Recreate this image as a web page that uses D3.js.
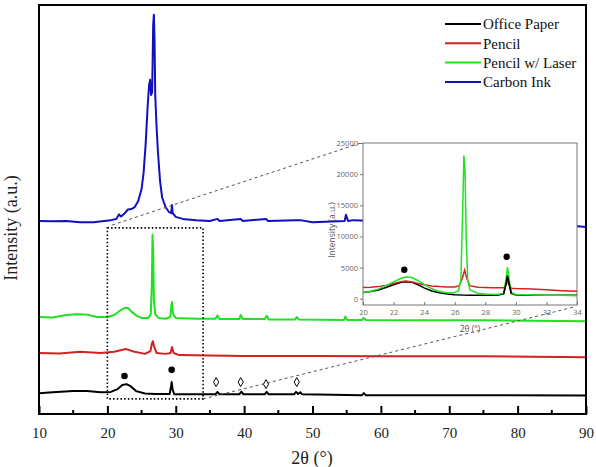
<!DOCTYPE html>
<html>
<head>
<meta charset="utf-8">
<script src="https://cdn.jsdelivr.net/npm/d3@7"></script>
<style>
  body { margin: 0; background: #fff; }
  svg { display: block; }
</style>
</head>
<body>
<div id="chart"></div>
<script>
// series: [2theta, intensity (a.u., stacked offset)]
const officePaper = [[10,5.1],[12,5.3],[15,5.6],[17,5.6],[19,5.3],[20.5,5.4],[21.5,6.1],[22.2,7.1],[22.8,7.3],[23.4,6.8],[24.2,5.6],[25.5,5.0],[27,4.9],[29.1,4.9],[29.3,6.6],[29.4,7.8],[29.55,5.9],[29.8,4.8],[33,4.8],[35.8,4.8],[36.1,5.4],[36.4,4.8],[39.3,4.8],[39.6,5.5],[39.9,4.8],[43.0,4.8],[43.3,5.4],[43.6,4.8],[47.3,4.8],[47.6,5.4],[47.9,4.9],[48.2,5.3],[48.5,4.8],[57.2,4.6],[57.5,5.1],[57.8,4.6],[70,4.6],[90,4.5]];
const pencil = [[10,14.9],[13,14.8],[16,15.2],[19,14.9],[21,15.2],[22.7,15.9],[24,15.2],[25.5,14.7],[26.3,15.4],[26.5,17.1],[26.65,17.8],[26.85,16.4],[27.2,14.9],[28.5,14.7],[29.25,14.9],[29.45,16.4],[29.7,14.9],[30.5,14.4],[35,14.3],[40,14.2],[50,14.2],[60,14.1],[75,14.1],[90,13.9]];
const pencilLaser = [[10,23.7],[12,23.6],[14,24.2],[15.5,24.4],[17,24.3],[18.5,23.7],[20,23.7],[21,24.2],[21.8,25.2],[22.5,25.9],[23.0,25.9],[23.6,24.9],[24.3,24.0],[25.0,23.5],[26.0,23.5],[26.35,24.4],[26.5,31.5],[26.6,43.8],[26.7,40.1],[26.8,27.9],[27.0,24.4],[27.5,23.5],[28.5,23.3],[29.2,23.7],[29.35,26.4],[29.45,27.4],[29.6,24.4],[30,23.5],[33,23.3],[35.8,23.3],[36.1,24.1],[36.4,23.2],[39.3,23.2],[39.5,24.2],[39.8,23.2],[43.0,23.2],[43.3,24.0],[43.6,23.1],[47.4,23.1],[47.7,23.7],[48.0,23.1],[54.6,23.0],[54.8,23.8],[55.1,23.0],[57.2,23.0],[57.5,23.5],[57.8,23.0],[65,22.9],[75,22.9],[90,22.7]];
const carbonInk = [[10,47.2],[12,47.1],[14,47.2],[16,46.9],[18,46.9],[19.5,47.2],[20.5,47.4],[21.3,47.7],[21.7,48.8],[22.0,48.3],[22.5,49.0],[23.0,50.0],[23.5,50.1],[24.0,50.6],[24.5,52.0],[25.0,55.0],[25.3,59.0],[25.6,66.0],[25.9,75.5],[26.1,80.4],[26.25,81.7],[26.4,78.0],[26.55,78.7],[26.7,95.1],[26.8,97.6],[26.9,91.4],[27.0,78.0],[27.2,70.0],[27.4,64.0],[27.7,57.0],[28.0,53.0],[28.5,50.6],[29.0,49.4],[29.35,49.1],[29.45,51.1],[29.55,49.1],[30,48.2],[31,47.7],[33,47.4],[35,47.2],[36.1,47.7],[36.4,47.2],[39.5,47.7],[39.8,47.2],[43.2,47.7],[43.5,47.2],[47.5,47.4],[48.2,47.4],[50,46.9],[54.7,47.2],[54.9,48.7],[55.2,47.2],[56,47.4],[70,46.5],[88,46.0],[90,45.7]];

const seriesNames = ["Office Paper", "Pencil", "Pencil w/ Laser", "Carbon Ink"];
const seriesColors = ["#000000", "#d42020", "#22e022", "#1010c0"];

// peak markers on the main plot
const dotMarks = [[22.5, 9.3], [29.4, 10.8]];
const diamondMarks = [[35.9, 7.8], [39.5, 7.8], [43.2, 7.3], [47.7, 7.8]];
const zoomBox = { x0: 20, x1: 34, y0: 3.7, y1: 45.5 };

// inset (20-34 deg, counts)
const insetPaper = [[20,1000],[20.5,1150],[21,1400],[21.5,1800],[22,2250],[22.5,2650],[22.8,2750],[23.2,2650],[23.6,2250],[24,1750],[24.5,1250],[25,950],[25.5,750],[26,650],[26.5,600],[27,580],[28,550],[28.8,550],[29.2,800],[29.35,2300],[29.45,3700],[29.55,2500],[29.7,850],[30,600],[31,550],[32,550],[33,550],[34,550]];
const insetPencil = [[20,1800],[20.5,1850],[21,1950],[21.5,2150],[22,2450],[22.5,2750],[22.8,2850],[23.2,2700],[23.6,2450],[24,2250],[24.5,2050],[25,1950],[25.5,1900],[26,1900],[26.3,2100],[26.5,3300],[26.65,4600],[26.8,3200],[27,2100],[27.5,1850],[28.5,1750],[29.2,1750],[29.35,2300],[29.45,2800],[29.55,2200],[29.7,1700],[30,1650],[31,1550],[32,1450],[33,1300],[34,1200]];
const insetLaser = [[20,1000],[20.5,1200],[21,1550],[21.5,2100],[22,2700],[22.5,3300],[22.8,3500],[23.2,3400],[23.6,2900],[24,2300],[24.5,1600],[25,1150],[25.5,950],[26,1000],[26.25,1300],[26.4,3000],[26.52,14000],[26.6,23000],[26.68,20000],[26.75,10000],[26.85,3000],[27,1400],[27.5,900],[28,750],[28.8,700],[29.2,900],[29.35,3000],[29.45,5100],[29.55,3300],[29.7,1000],[30,700],[31,600],[32,550],[33,550],[34,500]];
const insetDots = [[22.7, 4650], [29.4, 6750]];
const insetXTicks = [20, 22, 24, 26, 28, 30, 32, 34];
const insetYTicks = [0, 5000, 10000, 15000, 20000, 25000];
const mainXTicks = [10, 20, 30, 40, 50, 60, 70, 80, 90];

const W = 596, H = 467;
const margin = { top: 5, right: 10, bottom: 53, left: 39 };
const width = W - margin.left - margin.right;
const height = H - margin.top - margin.bottom;

const svg = d3.select("#chart").append("svg")
  .attr("width", W)
  .attr("height", H);

const g = svg.append("g")
  .attr("transform", `translate(${margin.left},${margin.top})`);

const x = d3.scaleLinear().domain([10, 90]).range([0, width]);
const y = d3.scaleLinear().domain([0, 100]).range([height, 0]);

const line = d3.line().x(d => x(d[0])).y(d => y(d[1]));

// series
[officePaper, pencil, pencilLaser, carbonInk].forEach((s, i) => {
  g.append("path")
    .datum(s)
    .attr("d", line)
    .attr("fill", "none")
    .attr("stroke", seriesColors[i])
    .attr("stroke-width", 2)
    .attr("stroke-linejoin", "round");
});

// markers
g.selectAll(".dot").data(dotMarks).enter().append("circle")
  .attr("cx", d => x(d[0])).attr("cy", d => y(d[1]))
  .attr("r", 3.3).attr("fill", "#000");

g.selectAll(".diamond").data(diamondMarks).enter().append("path")
  .attr("transform", d => `translate(${x(d[0])},${y(d[1])})`)
  .attr("d", "M0,-4.5L2.6,0L0,4.5L-2.6,0Z")
  .attr("fill", "#fff").attr("stroke", "#000").attr("stroke-width", 1);

// dotted zoom box
g.append("rect")
  .attr("x", x(zoomBox.x0)).attr("y", y(zoomBox.y1))
  .attr("width", x(zoomBox.x1) - x(zoomBox.x0))
  .attr("height", y(zoomBox.y0) - y(zoomBox.y1))
  .attr("fill", "none").attr("stroke", "#000")
  .attr("stroke-width", 1.6).attr("stroke-dasharray", "1.5,2.2");

// inset geometry (absolute page coords)
const ins = { left: 363, right: 577, top: 143, bottom: 305 };
const ix = d3.scaleLinear().domain([20, 34]).range([ins.left, ins.right]);
const iy = d3.scaleLinear().domain([-1000, 25000]).range([ins.bottom, ins.top]);

// connecting dashed lines
svg.append("line")
  .attr("x1", margin.left + x(20.7)).attr("y1", margin.top + y(46.2))
  .attr("x2", ins.left - 2).attr("y2", ins.top)
  .attr("stroke", "#555").attr("stroke-width", 1).attr("stroke-dasharray", "3,3");
svg.append("line")
  .attr("x1", margin.left + x(zoomBox.x1)).attr("y1", margin.top + y(zoomBox.y0))
  .attr("x2", ins.right - 3).attr("y2", ins.bottom + 2)
  .attr("stroke", "#555").attr("stroke-width", 1).attr("stroke-dasharray", "3,3");

// inset
const inset = svg.append("g");
inset.append("rect")
  .attr("x", ins.left).attr("y", ins.top)
  .attr("width", ins.right - ins.left).attr("height", ins.bottom - ins.top)
  .attr("fill", "#fff").attr("stroke", "#777").attr("stroke-width", 1);

const iline = d3.line().x(d => ix(d[0])).y(d => iy(d[1]));
[insetPaper, insetPencil, insetLaser].forEach((s, i) => {
  inset.append("path")
    .datum(s)
    .attr("d", iline)
    .attr("fill", "none")
    .attr("stroke", seriesColors[i])
    .attr("stroke-width", 1.5);
});
// redraw black over red near 29.4
inset.append("path").datum(insetPaper.filter(d => d[0] > 29 && d[0] < 30))
  .attr("d", iline).attr("fill", "none").attr("stroke", "#000").attr("stroke-width", 1.5);

inset.selectAll(".idot").data(insetDots).enter().append("circle")
  .attr("cx", d => ix(d[0])).attr("cy", d => iy(d[1]))
  .attr("r", 3.2).attr("fill", "#000");

const insetXAxis = inset.append("g")
  .attr("transform", `translate(0,${ins.bottom})`)
  .call(d3.axisBottom(ix).tickValues(insetXTicks).tickSize(-3).tickPadding(5).tickFormat(d3.format("d")));
const insetYAxis = inset.append("g")
  .attr("transform", `translate(${ins.left},0)`)
  .call(d3.axisLeft(iy).tickValues(insetYTicks).tickSize(3).tickPadding(2).tickFormat(d3.format("d")));
[insetXAxis, insetYAxis].forEach(a => {
  a.select(".domain").remove();
  a.selectAll(".tick line").attr("stroke", "#777");
  a.selectAll(".tick text")
    .attr("fill", "#666")
    .style("font-family", "'Open Sans', sans-serif")
    .style("font-size", "7.5px");
});

inset.append("text")
  .attr("x", 470).attr("y", 332)
  .attr("text-anchor", "middle")
  .attr("fill", "#555")
  .style("font-family", "'Open Sans', sans-serif")
  .style("font-size", "8.5px")
  .text("2θ (°)");
inset.append("text")
  .attr("transform", "translate(335,230) rotate(-90)")
  .attr("text-anchor", "middle")
  .attr("fill", "#555")
  .style("font-family", "'Open Sans', sans-serif")
  .style("font-size", "8.5px")
  .text("Intensity (a.u.)");

// main frame
g.append("rect")
  .attr("width", width).attr("height", height)
  .attr("fill", "none").attr("stroke", "#000").attr("stroke-width", 2);

// main x axis with inward ticks
const xAxis = g.append("g")
  .attr("transform", `translate(0,${height})`)
  .call(d3.axisBottom(x).tickValues(mainXTicks).tickSize(-8).tickPadding(13));
xAxis.select(".domain").remove();
xAxis.selectAll(".tick line").attr("stroke-width", 2);
xAxis.selectAll(".tick text")
  .style("font-family", "'Liberation Serif', serif")
  .style("font-size", "15px")
  .attr("fill", "#222");
xAxis.selectAll(".minor").data(d3.range(15, 90, 10)).enter().append("line")
  .attr("x1", d => x(d)).attr("x2", d => x(d))
  .attr("y1", 0).attr("y2", -4)
  .attr("stroke", "#000").attr("stroke-width", 2);

// axis titles
svg.append("text")
  .attr("x", 312).attr("y", 464)
  .attr("text-anchor", "middle")
  .style("font-family", "'Liberation Serif', serif")
  .style("font-size", "18px")
  .attr("fill", "#222")
  .text("2θ (°)");
svg.append("text")
  .attr("transform", "translate(17,228) rotate(-90)")
  .attr("text-anchor", "middle")
  .style("font-family", "'Liberation Serif', serif")
  .style("font-size", "18px")
  .attr("fill", "#222")
  .text("Intensity (a.u.)");

// legend
const legend = svg.append("g");
seriesNames.forEach((name, i) => {
  const ly = 24 + i * 19.3;
  legend.append("line")
    .attr("x1", 445).attr("x2", 481).attr("y1", ly).attr("y2", ly)
    .attr("stroke", seriesColors[i]).attr("stroke-width", 2);
  legend.append("text")
    .attr("x", 483).attr("y", ly).attr("dy", "0.35em")
    .style("font-family", "'Liberation Serif', serif")
    .style("font-size", "15px")
    .attr("fill", "#111")
    .text(name);
});
</script>
</body>
</html>
